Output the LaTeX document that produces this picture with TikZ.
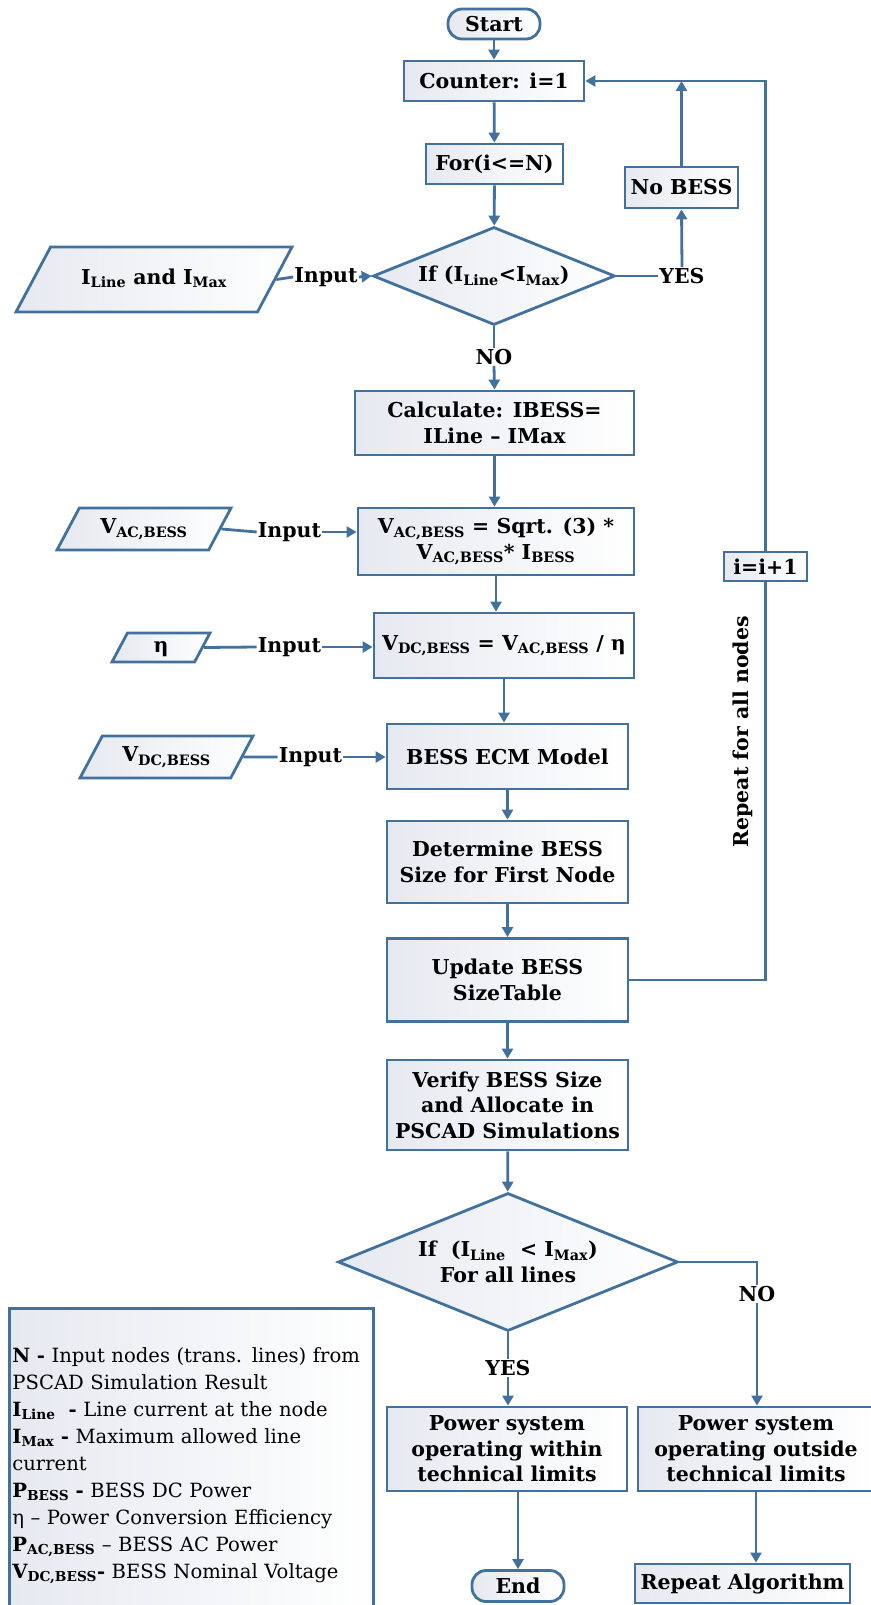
\documentclass[tikz,border=0pt]{standalone}
\usepackage{fontspec}
\setmainfont{DejaVu Serif}
\usetikzlibrary{shapes.geometric,arrows.meta,positioning,calc}
\definecolor{flowblue}{RGB}{65,113,156}
\definecolor{shadegray}{RGB}{230,233,240}
\newcommand{\subtx}[1]{\textsubscript{#1}}

\begin{document}
\begin{tikzpicture}[
    x=1pt, y=-1pt,
    box/.style={draw=flowblue, line width=2.8pt, left color=shadegray, right color=white, align=center, inner sep=2pt, font=\bfseries\fontsize{20.5}{25.5}\selectfont},
    term/.style={box, rounded corners=14pt},
    decide/.style={box, diamond, shape aspect=2.46, inner sep=0pt},
    datain/.style={box, trapezium, trapezium left angle=62, trapezium right angle=118, trapezium stretches body, inner xsep=0pt, text height=14pt, text depth=5pt},
    tag/.style={inner sep=1pt, font=\bfseries\fontsize{20.5}{25.5}\selectfont},
    link/.style={draw=flowblue, line width=2.8pt},
    flow/.style={link, -{Triangle[length=10pt,width=11pt]}}
]
\useasboundingbox (0,0) rectangle (870,1605);

% main loop
\node[term, minimum width=92pt, minimum height=30pt] (start) at (494,24) {Start};
\node[box, minimum width=180pt, minimum height=40pt] (count) at (494,81) {Counter: i=1};
\node[box, minimum width=137pt, minimum height=40pt] (forn) at (494.5,164) {For(i<=N)};
\node[box, minimum width=113pt, minimum height=41pt] (nobess) at (681.5,187.5) {No BESS};
\node[decide, minimum width=242pt, minimum height=98pt] (if1) at (494,276) {If (I\subtx{Line}<I\subtx{Max})};
\node[datain, inner ysep=23pt, minimum width=276pt] (par1) at (154,279.5) {I\subtx{Line} and I\subtx{Max}};
\node[tag] (in1) at (326,277) {Input};
\node[tag] (yes1) at (682,276) {YES};
\node[tag] (no1) at (494,357) {NO};

\node[box, minimum width=279pt, minimum height=64pt] (calc) at (494.5,423) {Calculate: IBESS=\\ILine -- IMax};
\node[box, minimum width=276pt, minimum height=67pt] (vac) at (496,541.5) {V\subtx{AC,BESS} = Sqrt. (3) *\\V\subtx{AC,BESS}* I\subtx{BESS}};
\node[datain, inner ysep=11.5pt, minimum width=174pt] (par2) at (144,529) {V\subtx{AC,BESS}};
\node[tag] (in2) at (289.5,532) {Input};
\node[box, minimum width=260pt, minimum height=65pt] (vdc) at (504,645.5) {V\subtx{DC,BESS} = V\subtx{AC,BESS} / η};
\node[datain, inner ysep=5pt, minimum width=98pt] (par3) at (161,647.5) {η};
\node[tag] (in3) at (289.5,647) {Input};
\node[box, minimum width=241pt, minimum height=65pt] (ecm) at (507.5,756.5) {BESS ECM Model};
\node[datain, inner ysep=11.5pt, minimum width=173pt] (par4) at (166.5,757) {V\subtx{DC,BESS}};
\node[tag] (in4) at (310.5,757) {Input};
\node[box, minimum width=241pt, minimum height=82pt] (det) at (507.5,862) {Determine BESS\\Size for First Node};
\node[box, minimum width=241pt, minimum height=83pt] (upd) at (507.5,980) {Update BESS\\SizeTable};
\node[box, minimum width=241pt, minimum height=90pt] (ver) at (507.5,1105) {Verify BESS Size\\and Allocate in\\PSCAD Simulations};
\node[box, inner sep=0pt, minimum width=83pt, minimum height=29pt] (inc) at (765.5,566.5) {i=i+1};
\node[tag, rotate=90] (reptxt) at (743,732) {Repeat for all nodes};

% final check
\node[decide, minimum width=340pt, minimum height=138pt] (if2) at (508,1262) {If~ (I\subtx{Line} ~< I\subtx{Max})\\For all lines};
\node[tag] (yes2) at (508,1368) {YES};
\node[tag] (no2) at (757,1294) {NO};
\node[box, minimum width=240pt, minimum height=84pt] (okbox) at (507,1449) {Power system\\operating within\\technical limits};
\node[box, minimum width=236pt, minimum height=84pt] (badbox) at (756,1449) {Power system\\operating outside\\technical limits};
\node[term, minimum width=92pt, minimum height=31pt] (endn) at (518,1586) {End};
\node[box, minimum width=215pt, minimum height=39pt] (rep) at (742.5,1583.5) {Repeat Algorithm};

% legend
\node[box, font=\fontsize{19.6}{27}\selectfont, align=left, anchor=north west, minimum width=364pt, minimum height=314pt, text width=358pt] (legend) at (8,1307)
  {\textbf{N -} Input nodes (trans. lines) from\\
   PSCAD Simulation Result\\
   \textbf{I\subtx{Line}~ -} Line current at the node\\
   \textbf{I\subtx{Max} -} Maximum allowed line\\
   current\\
   \textbf{P\subtx{BESS} -} BESS DC Power\\
   η -- Power Conversion Efficiency\\
   \textbf{P\subtx{AC,BESS}} -- BESS AC Power\\
   \textbf{V\subtx{DC,BESS}-} BESS Nominal Voltage};

\draw[flow] (start) -- (count);
\draw[flow] (count) -- (forn);
\draw[flow] (forn) -- (if1);
\draw[link] (par1.east) -- (in1.west);
\draw[flow] (in1.east) -- (if1.west);
\draw[link] (if1.east) -- (yes1.west);
\draw[flow] (yes1.north) -- (nobess.south);
\draw[flow] (nobess.north) -- (nobess.north |- count.east);
\draw[link] (if1.south) -- (no1.north);
\draw[flow] (no1.south) -- (calc.north);
\draw[flow] (calc.south) -- (calc.south |- vac.north);
\draw[link] (par2.east) -- (in2.west);
\draw[flow] (in2.east) -- (in2.east -| vac.west);
\draw[flow] (vac.south) -- (vac.south |- vdc.north);
\draw[link] (par3.east) -- (in3.west);
\draw[flow] (in3.east) -- (in3.east -| vdc.west);
\draw[flow] (vdc.south) -- (vdc.south |- ecm.north);
\draw[link] (par4.east) -- (in4.west);
\draw[flow] (in4.east) -- (in4.east -| ecm.west);
\draw[flow] (ecm) -- (det);
\draw[flow] (det) -- (upd);
\draw[flow] (upd) -- (ver);
\draw[flow] (ver) -- (if2);
\draw[link] (upd.east) -| (inc.south);
\draw[flow] (inc.north) |- (count.east);
\draw[link] (if2.south) -- (yes2.north);
\draw[flow] (yes2.south) -- (yes2.south |- okbox.north);
\draw[link] (if2.east) -| (no2.north);
\draw[flow] (no2.south) -- (no2.south |- badbox.north);
\draw[flow] (okbox.south -| endn.north) -- (endn.north);
\draw[flow] (badbox.south) -- (badbox.south |- rep.north);
\end{tikzpicture}
\end{document}
